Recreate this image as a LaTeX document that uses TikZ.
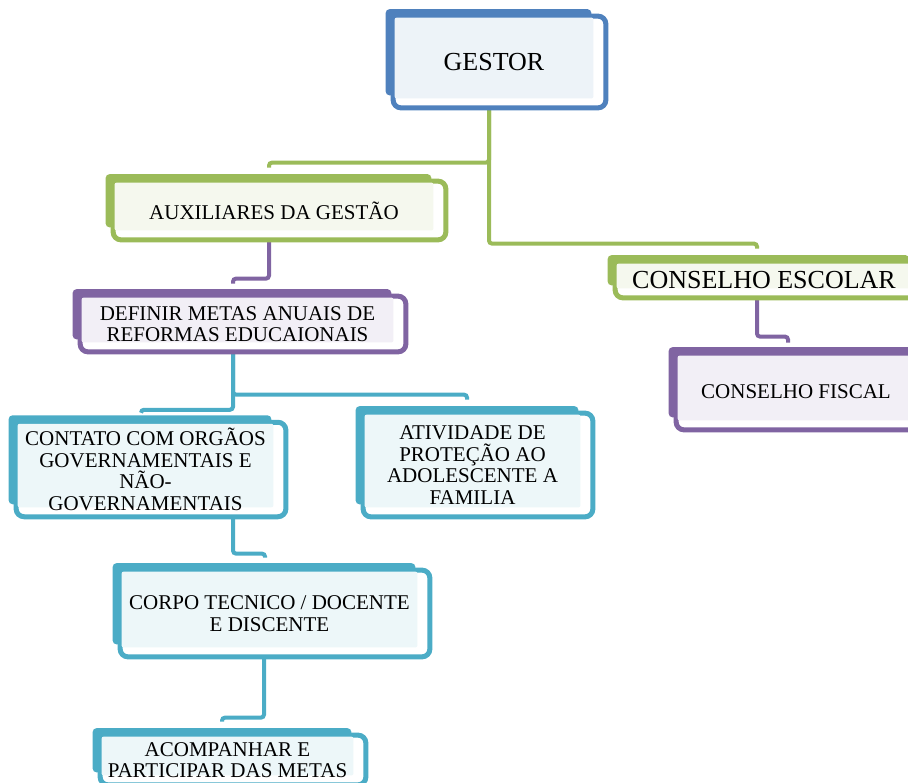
\documentclass[tikz,border=0pt]{standalone}
\usepackage{fontspec}
\setmainfont{Liberation Serif}
\usepackage{tikz}
\usetikzlibrary{backgrounds}

\definecolor{bluebox}{HTML}{4F81BD}
\definecolor{grnbox}{HTML}{9BBB59}
\definecolor{purbox}{HTML}{8064A2}
\definecolor{cyanbox}{HTML}{4BACC6}

\begin{document}
\begin{tikzpicture}[x=0.5pt, y=-0.5pt,
    box/.style={inner sep=0pt, align=center, font=\fontsize{10.5}{10.8}\selectfont},
    bigtext/.style={font=\fontsize{13}{15}\selectfont},
    link/.style={draw=#1, line width=2pt, rounded corners=1.5pt}]

    \useasboundingbox (0,0) rectangle (908,782);
    \clip (0,0) rectangle (908,782);

    \node[box, bigtext, minimum width=99pt, minimum height=40pt] (gestor) at (494,62) {GESTOR};
    \node[box, minimum width=159pt, minimum height=23.5pt] (aux) at (274,210.5) {AUXILIARES DA GESTÃO};
    \node[box, minimum width=155.5pt, minimum height=22pt] (definir) at (237.5,324) {DEFINIR METAS ANUAIS DE\\REFORMAS EDUCAIONAIS};
    \node[box, bigtext, minimum width=147pt, minimum height=12pt] (cescolar) at (764,280) {CONSELHO ESCOLAR};
    \node[box, minimum width=118pt, minimum height=32pt] (cfiscal) at (796,392) {CONSELHO FISCAL};
    \node[box, minimum width=127.5pt, minimum height=37.5pt] (contato) at (145.5,469.5) {CONTATO COM ORGÃOS\\GOVERNAMENTAIS E\\NÃO-\\GOVERNAMENTAIS};
    \node[box, minimum width=107.5pt, minimum height=46pt] (ativ) at (472.5,465) {ATIVIDADE DE\\PROTEÇÃO AO\\ADOLESCENTE A\\FAMILIA};
    \node[box, minimum width=147.5pt, minimum height=37.5pt] (corpo) at (269.5,613.5) {CORPO TECNICO / DOCENTE\\E DISCENTE};
    \node[box, minimum width=125.5pt, minimum height=19pt] (acomp) at (227.5,760) {ACOMPANHAR E\\PARTICIPAR DAS METAS};

    \begin{scope}[on background layer]
        \draw[link=grnbox] ([xshift=-2.5pt]gestor.south) |- ([xshift=-2.5pt,yshift=12pt]aux.north) -- ([xshift=-2.5pt,yshift=9.5pt]aux.north);
        \draw[link=grnbox] ([xshift=-2.5pt]gestor.south) |- ([xshift=-3.5pt,yshift=12pt]cescolar.north) -- ([xshift=-3.5pt,yshift=9.5pt]cescolar.north);
        \draw[link=purbox] ([xshift=-2.5pt]aux.south) |- ([xshift=-2.25pt,yshift=11.5pt]definir.north) -- ([xshift=-2.25pt,yshift=9pt]definir.north);
        \draw[link=purbox] ([xshift=-3.5pt]cescolar.south) |- ([xshift=-4pt,yshift=11.5pt]cfiscal.north) -- ([xshift=-4pt,yshift=8.5pt]cfiscal.north);
        \draw[link=cyanbox] ([xshift=-2.25pt]definir.south) |- ([xshift=-2.75pt,yshift=12pt]ativ.north) -- ([xshift=-2.75pt,yshift=9.5pt]ativ.north);
        \draw[link=cyanbox] ([xshift=-2.25pt]definir.south) |- ([xshift=-2.25pt,yshift=9pt]contato.north) -- ([xshift=-2.25pt,yshift=7.5pt]contato.north);
        \draw[link=cyanbox] ([xshift=-2.25pt]definir.south |- contato.south) |- ([xshift=-2.25pt,yshift=11pt]corpo.north) -- ([xshift=-2.25pt,yshift=9pt]corpo.north);
        \draw[link=cyanbox] ([xshift=-2.75pt]corpo.south) |- ([xshift=-2.75pt,yshift=11.5pt]acomp.north) -- ([xshift=-2.75pt,yshift=9.5pt]acomp.north);

        \foreach \n/\c in {gestor/bluebox, aux/grnbox, cescolar/grnbox, definir/purbox, cfiscal/purbox,
                           contato/cyanbox, ativ/cyanbox, corpo/cyanbox, acomp/cyanbox} {
            \fill[\c, rounded corners=2pt] ([shift={(-4.5pt,6.25pt)}]\n.north west) rectangle ([shift={(-1pt,3.5pt)}]\n.south east);
            \draw[\c, line width=2.5pt, fill=white, rounded corners=4pt] ([shift={(-0.75pt,2.75pt)}]\n.north west) rectangle ([shift={(6.25pt,-2.75pt)}]\n.south east);
            \fill[\c!10, rounded corners=1pt] ([yshift=2pt]\n.north west) rectangle ([yshift=2pt]\n.south east);
        }
    \end{scope}
\end{tikzpicture}
\end{document}
